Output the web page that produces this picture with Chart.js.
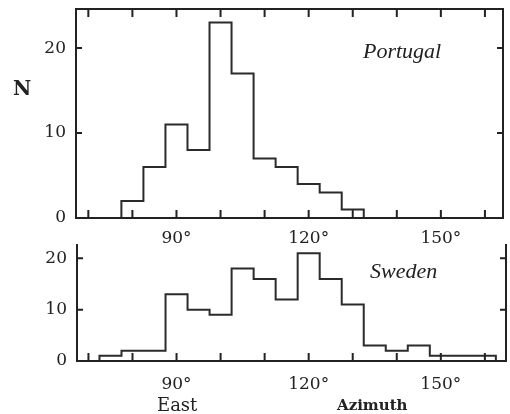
<!DOCTYPE html>
<html>
<head>
<meta charset="utf-8">
<script src="https://cdn.jsdelivr.net/npm/chart.js@4"></script>
<style>
  body { margin: 0; background: #fff; }
  #wrap { position: relative; width: 510px; height: 414px; overflow: hidden; }
  canvas { position: absolute; left: 0; }
  .lbl { position: absolute; white-space: nowrap; line-height: 1; color: #222; }
</style>
</head>
<body>
<div id="wrap">
  <canvas id="top" width="510" height="250" style="top:0"></canvas>
  <canvas id="bottom" width="510" height="172" style="top:242px"></canvas>
  <div class="lbl" style="left:13px;top:76px;font:bold 20px 'DejaVu Serif'">N</div>
  <div class="lbl" style="left:363px;top:38px;font:italic 22px 'Liberation Serif'">Portugal</div>
  <div class="lbl" style="left:370px;top:258px;font:italic 22px 'Liberation Serif'">Sweden</div>
  <div class="lbl" style="left:157px;top:394px;font:18px 'DejaVu Serif'">East</div>
  <div class="lbl" style="left:337px;top:396px;font:bold 15px 'DejaVu Serif'">Azimuth</div>
</div>
<script>
// bin centres (degrees), 5 degree bins
var binWidth = 5;
var portugalBins = [80, 85, 90, 95, 100, 105, 110, 115, 120, 125, 130];
var portugalN = [2, 6, 11, 8, 23, 17, 7, 6, 4, 3, 1];

var swedenBins = [75, 80, 85, 90, 95, 100, 105, 110, 115, 120, 125, 130, 135, 140, 145, 150, 155, 160];
var swedenN = [1, 2, 2, 13, 10, 9, 18, 16, 12, 21, 16, 11, 3, 2, 3, 1, 1, 1];

var xLabels = [90, 120, 150];
var yLabels = [0, 10, 20];

var ink = '#222';

// outline of a histogram as a stepped line
function outline(bins, counts) {
	var pts = [{ x: bins[0] - binWidth / 2, y: 0 }];
	bins.forEach(function(b, i) {
		pts.push({ x: b + binWidth / 2, y: counts[i] });
	});
	var last = bins[bins.length - 1] + binWidth / 2;
	pts.push({ x: last, y: 0 });
	return pts;
}

// box and inward tick marks
var framePlugin = {
	id: 'frame',
	afterDraw: function(chart, args, opts) {
		var ctx = chart.ctx, a = chart.chartArea;
		var x = chart.scales.x, y = chart.scales.y;
		ctx.save();
		ctx.strokeStyle = ink;
		ctx.lineWidth = 2;
		ctx.lineCap = 'square';
		ctx.beginPath();
		if (opts.top) {
			ctx.moveTo(a.left, a.top);
			ctx.lineTo(a.right, a.top);
		}
		ctx.moveTo(a.left, a.top);
		ctx.lineTo(a.left, a.bottom);
		ctx.lineTo(a.right, a.bottom);
		ctx.lineTo(a.right, a.top);
		x.ticks.forEach(function(t) {
			var px = x.getPixelForValue(t.value);
			ctx.moveTo(px, a.bottom);
			ctx.lineTo(px, a.bottom - 7);
			if (opts.top) {
				ctx.moveTo(px, a.top);
				ctx.lineTo(px, a.top + 7);
			}
		});
		y.ticks.forEach(function(t) {
			if (t.value === 0) return;
			var py = y.getPixelForValue(t.value);
			ctx.moveTo(a.left, py);
			ctx.lineTo(a.left + 5, py);
			ctx.moveTo(a.right, py);
			ctx.lineTo(a.right - 5, py);
		});
		ctx.stroke();
		ctx.restore();
	}
};

function makeChart(id, bins, counts, o) {
	return new Chart(document.getElementById(id), {
		type: 'line',
		data: {
			datasets: [{
				data: outline(bins, counts),
				stepped: 'after',
				borderColor: '#2b2b2b',
				borderWidth: 2,
				pointRadius: 0,
				fill: false
			}]
		},
		options: {
			responsive: false,
			animation: false,
			layout: { padding: { top: o.padTop, right: o.padRight, left: 0, bottom: 0 } },
			plugins: {
				legend: { display: false },
				tooltip: { enabled: false },
				frame: { top: o.box }
			},
			scales: {
				x: {
					type: 'linear',
					min: o.xmin,
					max: o.xmax,
					grid: { display: false, drawTicks: false },
					border: { display: false },
					ticks: {
						stepSize: 10,
						includeBounds: false,
						autoSkip: false,
						maxRotation: 0,
						padding: o.xPad,
						color: ink,
						font: { family: 'DejaVu Serif', size: 17 },
						callback: function(v) { return xLabels.indexOf(v) >= 0 ? v + '°' : ''; }
					},
					afterFit: function(s) {
						s.height = o.xHeight;
						s.paddingLeft = 0;
						s.paddingRight = 0;
					}
				},
				y: {
					min: 0,
					max: o.ymax,
					grid: { display: false, drawTicks: false },
					border: { display: false },
					ticks: {
						stepSize: 10,
						includeBounds: false,
						padding: 10,
						color: ink,
						font: { family: 'DejaVu Serif', size: 17 },
						callback: function(v) { return yLabels.indexOf(v) >= 0 ? String(v) : ''; }
					},
					afterFit: function(s) {
						s.width = o.yWidth;
						s.paddingTop = 0;
						s.paddingBottom = 0;
					}
				}
			}
		},
		plugins: [framePlugin]
	});
}

makeChart('top', portugalBins, portugalN, {
	padTop: 9, padRight: 7, xmin: 67.2, xmax: 164.1, ymax: 24.6,
	xHeight: 32, yWidth: 76, xPad: 10, box: true
});

makeChart('bottom', swedenBins, swedenN, {
	padTop: 3, padRight: 4, xmin: 67.4, xmax: 164.8, ymax: 22.6,
	xHeight: 53, yWidth: 77, xPad: 13, box: false
});
</script>
</body>
</html>
